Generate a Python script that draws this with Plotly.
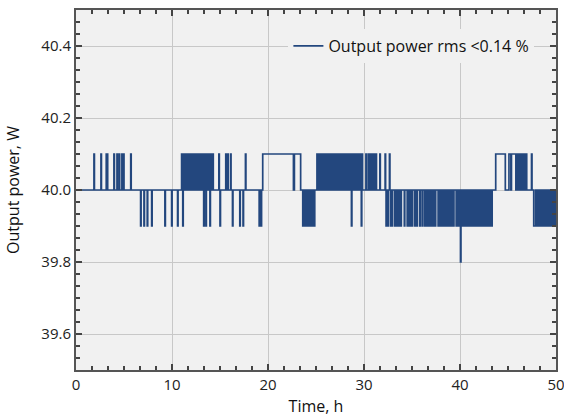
import plotly.graph_objects as go

# ---- data (hours, watts) ----
BASE_W = 40.0
SPIKE_H = 0.05  # duration of a brief excursion, hours

up_spikes_h = [
    1.87, 2.60, 3.15, 3.25, 3.95, 4.27, 4.50, 4.78, 4.95, 5.70,
    11.00, 11.22, 11.32, 11.45, 11.55, 11.66, 11.78, 11.88, 12.00, 12.10,
    12.22, 12.34, 12.45, 12.55, 12.67, 12.78, 12.90, 13.00, 13.12, 13.22,
    13.40, 13.62, 13.75, 13.85, 14.05, 14.25, 14.88, 15.60, 15.80, 16.10, 17.65,
    25.10, 25.20, 25.32, 25.44, 25.55, 25.66, 25.78, 25.90, 26.00, 26.12,
    26.24, 26.35, 26.46, 26.58, 26.70, 26.80, 26.92, 27.04, 27.15, 27.26,
    27.38, 27.50, 27.60, 27.72, 27.84, 27.95, 28.06, 28.18, 28.30, 28.40,
    28.52, 28.60, 28.78, 28.88, 28.98, 29.10, 29.20, 29.32, 29.44, 29.55,
    29.64, 29.80, 30.20, 30.45, 30.65, 30.85, 31.05, 31.25, 31.65, 32.20, 32.65,
    45.90, 46.00, 46.10, 46.20, 46.30, 46.40, 46.50, 46.60, 46.70, 46.80,
    46.90, 47.45,
]

down_spikes_h = [
    6.73, 7.08, 7.42, 7.88, 9.26, 9.96, 10.58, 11.12,
    13.30, 13.53, 13.95, 15.00, 16.30, 17.06, 17.40, 19.08, 19.18, 19.28,
    23.62, 23.72, 23.82, 23.92, 24.02, 24.12, 24.22, 24.32, 24.42, 24.52,
    24.62, 24.72, 24.82, 28.69, 29.72,
    32.30, 32.40, 32.50, 32.78, 32.92, 33.20, 33.30, 33.40, 33.52, 33.62,
    33.72, 33.84, 34.20, 34.50, 34.60, 34.70, 34.80, 34.90, 35.02, 35.30,
    35.40, 35.50, 35.80, 36.05, 36.30, 36.40, 36.50, 36.60, 36.70, 36.80,
    36.92, 37.10, 37.20, 37.30, 37.42,
    37.72, 37.82, 37.92, 38.02, 38.12, 38.22, 38.32, 38.42, 38.52, 38.62,
    38.72, 38.82, 38.92, 39.02, 39.12, 39.22, 39.32, 39.60, 39.70, 39.80,
    39.90, 40.20, 40.30, 40.40, 40.50, 40.60, 40.70, 40.80, 40.90, 41.00,
    41.10, 41.20, 41.30, 41.40, 41.50, 41.60, 41.70, 41.80, 41.90, 42.00,
    42.10, 42.20, 42.40, 42.50, 42.60, 42.70, 42.80, 42.90, 43.00, 43.10,
    43.20, 43.30,
    47.95, 48.05, 48.15, 48.25, 48.35, 48.45, 48.55, 48.65, 48.75, 48.85,
    48.95, 49.05, 49.15, 49.25, 49.35, 49.45, 49.55, 49.65, 49.75, 49.85, 49.93,
]

low_spikes_h = [40.05]          # excursion to 39.8 W
up_plateaus_h = [(19.45, 22.65), (22.75, 23.40), (43.72, 44.72),
                 (45.10, 45.30), (45.36, 45.82)]
down_plateaus_h = [(47.68, 47.88)]

UP_W, DOWN_W, LOW_W = 40.1, 39.9, 39.8
T_END = 50.0

# ---- build the stepped series ----
events = []
events += [(t, t + SPIKE_H, UP_W) for t in up_spikes_h]
events += [(t, t + SPIKE_H, DOWN_W) for t in down_spikes_h]
events += [(t, t + SPIKE_H, LOW_W) for t in low_spikes_h]
events += [(s, e, UP_W) for s, e in up_plateaus_h]
events += [(s, e, DOWN_W) for s, e in down_plateaus_h]
events.sort()

xs, ys = [0.0], [BASE_W]
for s, e, v in events:
    xs += [s, e]
    ys += [v, BASE_W]
xs.append(T_END)
ys.append(ys[-1])

FONT = "Open Sans"
fig = go.Figure()
fig.add_trace(go.Scatter(
    x=xs, y=ys, mode="lines", line_shape="hv",
    line=dict(color="#23477e", width=1.7),
    name="Output power rms <0.14 %",
))

axis_common = dict(
    automargin=False, ticklabeloverflow="allow",
    showline=True, linecolor="#555555", linewidth=2, mirror="allticks",
    ticks="inside", ticklen=6, tickwidth=1.5, tickcolor="#444444",
    showgrid=True, gridcolor="#c8c8c8", gridwidth=1, zeroline=False,
    tickfont=dict(family=FONT, size=15, color="#222222"),
)
fig.update_xaxes(
    range=[0, 50], dtick=10,
    minor=dict(dtick=10 / 6, ticks="inside", ticklen=4, tickcolor="#444444", showgrid=False),
    title=dict(text="Time, h", font=dict(family=FONT, size=16, color="#111111"), standoff=8),
    **axis_common,
)
fig.update_yaxes(
    range=[39.5, 40.5], dtick=0.2, tickformat=".1f",
    minor=dict(dtick=0.2 / 6, ticks="inside", ticklen=4, tickcolor="#444444", showgrid=False),
    title=dict(text="Output power, W", font=dict(family=FONT, size=16, color="#111111"), standoff=18),
    **axis_common,
)
fig.update_layout(
    width=564, height=420,
    margin=dict(l=76, r=8, t=10, b=50),
    paper_bgcolor="white", plot_bgcolor="#f1f1f1",
    showlegend=True,
    legend=dict(x=0.955, y=0.9, xanchor="right", yanchor="middle",
                bgcolor="#f1f1f1", borderwidth=0,
                font=dict(family=FONT, size=16, color="#111111")),
)
# remove the page's default body margin so the 564x420 figure fills the window
fig.write_html(
    "out.html",
    config={"displayModeBar": False},
    post_script="document.body.style.margin='0';document.body.style.overflow='hidden';",
)
